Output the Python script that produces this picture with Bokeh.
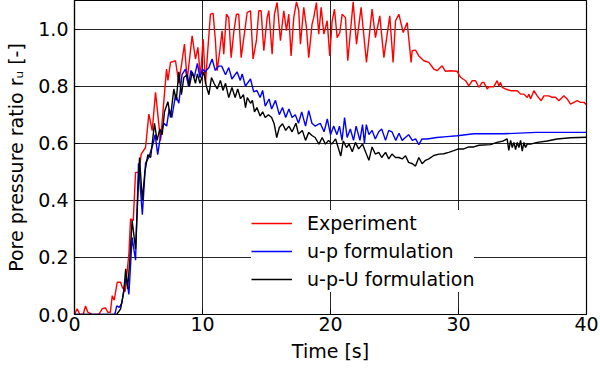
from bokeh.plotting import figure
from bokeh.models import Range1d, FixedTicker, PrintfTickFormatter, Legend, LegendItem
from bokeh.embed import file_html
from bokeh.resources import INLINE

# Experiment
t_exp = [0.0, 0.21, 0.42, 0.68, 0.86, 1.04, 1.38, 1.9, 2.16, 2.42, 2.6, 2.8, 2.95, 3.1, 3.34, 3.6, 3.73, 3.95,
         4.25, 4.38, 4.59, 4.77, 5.03, 5.21, 5.55, 5.81, 6.07, 6.33, 6.72, 7.19, 7.3, 7.5, 7.89, 8.15, 8.59,
         8.8, 9.19, 9.45, 9.64, 9.84, 10.05, 10.23, 10.41, 10.62, 10.83, 11.01, 11.14, 11.35, 11.53, 11.66,
         11.87, 12.05, 12.24, 12.44, 12.65, 12.83, 13.02, 13.23, 13.49, 13.75, 13.95, 14.21, 14.4, 14.58,
         14.79, 15.05, 15.18, 15.44, 15.62, 15.83, 16.09, 16.35, 16.56, 16.74, 16.92, 17.13, 17.34, 17.52,
         17.65, 17.91, 18.12, 18.3, 18.56, 18.69, 18.9, 19.08, 19.27, 19.48, 19.74, 19.94, 20.13, 20.31,
         20.52, 20.73, 20.91, 21.17, 21.35, 21.77, 22.03, 22.39, 22.81, 23.25, 23.51, 23.85, 24.17, 24.63,
         24.89, 25.08, 25.34, 25.68, 25.99, 26.3, 26.38, 26.64, 26.9, 27.29, 27.68, 28.07, 28.33, 28.72,
         28.98, 29.37, 29.89, 30.16, 30.55, 30.81, 31.07, 31.33, 31.59, 31.85, 31.98, 32.24, 32.37, 32.76,
         33.02, 33.15, 33.28, 33.41, 33.67, 34.07, 34.59, 34.85, 35.11, 35.37, 35.5, 35.63, 35.89, 36.15,
         36.46, 36.67, 37.06, 37.32, 37.58, 37.84, 38.23, 38.49, 38.75, 39.01, 39.27, 39.53, 39.79, 40.0]
r_exp = [0.0, 0.02, 0.0, 0.0, 0.03, 0.008, 0.0, 0.0, 0.02, 0.023, 0.008, 0.008, 0.066, 0.05, 0.113, 0.113, 0.096, 0.08,
         0.212, 0.335, 0.329, 0.498, 0.498, 0.562, 0.585, 0.702, 0.644, 0.778, 0.609, 0.86, 0.82, 0.883, 0.889, 0.81, 0.947,
         0.82, 0.976, 0.895, 0.936, 0.83, 0.965, 0.807, 0.924, 1.052, 1.055, 0.959, 0.854, 0.924, 0.994, 0.912,
         1.052, 1.04, 0.9, 0.988, 1.052, 1.052, 0.9, 0.97, 1.058, 1.064, 0.895, 0.959, 1.064, 1.064,
         0.924, 1.04, 1.064, 0.912, 1.052, 1.093, 0.959, 1.064, 0.994, 1.052, 0.906, 1.04, 1.095, 1.064,
         0.947, 1.076, 1.006, 0.9, 1.017, 1.04, 1.093, 0.982, 1.076, 0.982, 1.029, 0.906, 1.029, 1.07,
         0.97, 0.988, 1.052, 1.04, 0.889, 1.095, 0.947, 1.076, 0.883, 1.07, 0.97, 1.046, 0.9, 1.046,
         0.883, 1.029, 1.052, 0.988, 1.023, 0.883, 0.924, 0.926, 0.906, 0.889, 0.883, 0.86, 0.854, 0.871,
         0.852, 0.854, 0.852, 0.831, 0.819, 0.801, 0.819, 0.819, 0.796, 0.813, 0.813, 0.79, 0.798, 0.798,
         0.819, 0.801, 0.813, 0.796, 0.79, 0.784, 0.784, 0.772, 0.772, 0.76, 0.772, 0.755, 0.784, 0.766,
         0.749, 0.766, 0.766, 0.761, 0.761, 0.749, 0.766, 0.755, 0.737, 0.743, 0.749, 0.743, 0.743, 0.735]

# u-p formulation
t_up = [0.0, 3.15, 3.3, 3.5, 3.7, 3.9, 4.05, 4.25, 4.5, 4.77, 5.0, 5.3, 5.55, 5.8, 6.15, 6.3, 6.5, 6.7, 6.98,
        7.2, 7.4, 7.6, 7.9, 8.15, 8.4, 8.67, 8.9, 9.1, 9.35, 9.6, 9.8, 10.0, 10.2, 10.5, 10.75, 11.0, 11.25,
        11.5, 11.8, 12.05, 12.3, 12.7, 12.95, 13.1, 13.35, 13.75, 14.0, 14.25, 14.5, 14.7, 14.9, 15.2, 15.4,
        15.7, 16.0, 16.25, 16.5, 16.75, 17.0, 17.25, 17.5, 17.75, 18.05, 18.3, 18.55, 18.8, 19.2, 19.5,
        19.75, 20.0, 20.25, 20.5, 20.7, 20.9, 21.1, 21.3, 21.55, 21.8, 22.0, 22.3, 22.5, 22.65, 22.8, 23.0,
        23.25, 23.5, 23.77, 24.0, 24.3, 24.55, 24.8, 25.1, 25.35, 25.6, 25.85, 26.1, 26.4, 26.65, 26.9,
        27.15, 27.55, 28.3, 29.1, 29.9, 31.2, 33.5, 36.1, 40.0]
r_up = [0.0, 0.0, 0.03, 0.025, 0.04, 0.1, 0.13, 0.07, 0.27, 0.19, 0.53, 0.35, 0.53, 0.55, 0.6, 0.63, 0.56, 0.62, 0.67,
        0.66, 0.72, 0.69, 0.77, 0.74, 0.84, 0.86, 0.8, 0.855, 0.83, 0.88, 0.83, 0.86, 0.85, 0.865, 0.895, 0.855, 0.87,
        0.87, 0.84, 0.865, 0.825, 0.85, 0.82, 0.843, 0.8, 0.825, 0.78, 0.785, 0.76, 0.785, 0.73, 0.755, 0.72,
        0.75, 0.7, 0.725, 0.69, 0.72, 0.69, 0.7, 0.67, 0.71, 0.66, 0.714, 0.67, 0.66, 0.67, 0.64,
        0.685, 0.63, 0.66, 0.63, 0.66, 0.61, 0.69, 0.62, 0.65, 0.61, 0.66, 0.61, 0.665, 0.6, 0.665, 0.63,
        0.645, 0.615, 0.64, 0.65, 0.61, 0.645, 0.64, 0.61, 0.635, 0.61, 0.62, 0.63, 0.61, 0.615, 0.595,
        0.615, 0.615, 0.62, 0.623, 0.626, 0.633, 0.633, 0.638, 0.638]

# u-p-U formulation
t_upU = [0.0, 3.3, 3.6, 3.85, 4.0, 4.15, 4.32, 4.5, 4.77, 5.08, 5.3, 5.5, 5.73, 5.95, 6.25, 6.45, 6.67, 6.85, 7.03,
         7.3, 7.5, 7.76, 7.95, 8.15, 8.35, 8.54, 8.8, 8.98, 9.2, 9.45, 9.6, 9.8, 10.1, 10.3, 10.5, 10.7, 10.9,
         11.15, 11.4, 11.6, 11.8, 12.05, 12.3, 12.55, 12.75, 12.97, 13.2, 13.36, 13.5, 13.75, 13.9, 14.06,
         14.25, 14.5, 14.7, 14.9, 15.15, 15.4, 15.6, 15.8, 16.0, 16.25, 16.5, 16.75, 17.0, 17.3, 17.5, 17.8,
         18.05, 18.3, 18.55, 18.8, 19.1, 19.35, 19.6, 19.85, 20.1, 20.4, 20.6, 20.8, 21.0, 21.25, 21.45,
         21.7, 21.95, 22.2, 22.5, 22.75, 23.0, 23.25, 23.5, 23.77, 24.0, 24.3, 24.55, 24.8, 25.08, 25.34,
         25.6, 25.86, 26.1, 26.4, 26.64, 26.9, 27.16, 27.42, 27.68, 28.07, 28.46, 28.85, 29.24, 29.63, 30.0,
         30.42, 30.8, 31.2, 31.6, 32.5, 33.0, 33.5, 33.8, 33.93, 34.07, 34.2, 34.33, 34.46, 34.59, 34.72,
         34.85, 34.98, 35.11, 35.24, 35.37, 35.63, 36.15, 36.93, 37.7, 38.75, 40.0]
r_upU = [0.0, 0.0, 0.02, 0.08, 0.16, 0.09, 0.19, 0.33, 0.23, 0.55, 0.4, 0.5, 0.56, 0.55, 0.67, 0.61, 0.65, 0.63, 0.71,
         0.745, 0.69, 0.79, 0.75, 0.85, 0.77, 0.83, 0.84, 0.8, 0.85, 0.81, 0.843, 0.81, 0.85, 0.8, 0.77, 0.83, 0.81,
         0.79, 0.82, 0.785, 0.81, 0.76, 0.795, 0.76, 0.79, 0.756, 0.77, 0.725, 0.76, 0.74, 0.75, 0.71,
         0.725, 0.695, 0.71, 0.69, 0.7, 0.69, 0.668, 0.62, 0.655, 0.668, 0.645, 0.66, 0.64, 0.67, 0.632, 0.645,
         0.61, 0.638, 0.627, 0.62, 0.597, 0.62, 0.597, 0.61, 0.597, 0.615, 0.585, 0.555, 0.608, 0.585, 0.597,
         0.57, 0.603, 0.58, 0.597, 0.568, 0.54, 0.587, 0.562, 0.568, 0.55, 0.568, 0.545, 0.562, 0.55, 0.55,
         0.545, 0.556, 0.533, 0.528, 0.52, 0.55, 0.528, 0.54, 0.545, 0.557, 0.562, 0.563, 0.568, 0.574, 0.58,
         0.58, 0.587, 0.587, 0.593, 0.595, 0.603, 0.608, 0.615, 0.575, 0.61, 0.585, 0.603, 0.578, 0.603, 0.585,
         0.61, 0.572, 0.603, 0.585, 0.597, 0.597, 0.603, 0.608, 0.615, 0.619, 0.621]

x_ticks = [0, 10, 20, 30, 40]
y_ticks = [0.0, 0.2, 0.4, 0.6, 0.8, 1.0]
labels = ["Experiment", "u-p formulation", "u-p-U formulation"]
colors = ["#ff0000", "#0000ff", "#000000"]

FONT = "DejaVu Sans"

p = figure(width=600, height=371, output_backend="svg", toolbar_location=None,
           x_range=Range1d(0, 40), y_range=Range1d(0, 1.1),
           min_border_left=74, min_border_right=14, min_border_top=0, min_border_bottom=57)
p.background_fill_color = "white"
p.border_fill_color = "white"
p.outline_line_color = "black"
p.outline_line_width = 1.2

r1 = p.line(t_exp, r_exp, line_color=colors[0], line_width=1.4)
r2 = p.line(t_up, r_up, line_color=colors[1], line_width=1.4)
r3 = p.line(t_upU, r_upU, line_color=colors[2], line_width=1.4)

for g in (p.xgrid, p.ygrid):
    g.grid_line_color = "black"
    g.grid_line_width = 1
    g.grid_line_alpha = 0.85

p.xaxis.ticker = FixedTicker(ticks=x_ticks)
p.yaxis.ticker = FixedTicker(ticks=y_ticks)
p.yaxis.formatter = PrintfTickFormatter(format="%.1f")
p.xaxis.formatter = PrintfTickFormatter(format="%d")

for ax in (p.xaxis, p.yaxis):
    ax.axis_line_color = "black"
    ax.axis_line_width = 1.2
    ax.major_tick_in = 5
    ax.major_tick_out = 0
    ax.minor_tick_in = 0
    ax.minor_tick_out = 0
    ax.major_tick_line_color = "black"
    ax.major_label_text_font = FONT
    ax.major_label_text_font_size = "19px"
    ax.major_label_text_color = "black"
    ax.axis_label_text_font = FONT
    ax.axis_label_text_font_size = "19px"
    ax.axis_label_text_font_style = "normal"
    ax.axis_label_text_color = "black"

p.xaxis.axis_label = "Time [s]"
p.yaxis.axis_label = "Pore pressure ratio rᵤ [-]"
p.xaxis.major_label_standoff = 2
p.yaxis.major_label_standoff = 6
p.xaxis.axis_label_standoff = 6
p.yaxis.axis_label_standoff = 8

legend = Legend(items=[LegendItem(label=labels[0], renderers=[r1]),
                       LegendItem(label=labels[1], renderers=[r2]),
                       LegendItem(label=labels[2], renderers=[r3])],
                location=(177, 22), orientation="vertical")
legend.border_line_color = None
legend.background_fill_color = "white"
legend.background_fill_alpha = 1.0
legend.label_text_font = FONT
legend.label_text_font_size = "19px"
legend.label_text_color = "black"
legend.glyph_width = 41
legend.glyph_height = 26
legend.label_height = 26
legend.label_standoff = 15
legend.spacing = 2
legend.padding = 5
legend.margin = 0
p.add_layout(legend, "center")

open("out.html", "w").write(file_html(p, INLINE))
